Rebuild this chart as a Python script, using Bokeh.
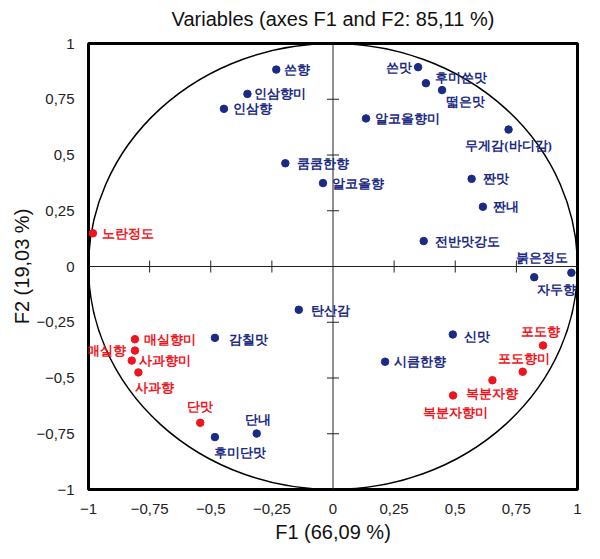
from bokeh.plotting import figure
from bokeh.models import (ColumnDataSource, LabelSet, Span, CustomJSTickFormatter, FixedTicker,
                          Range1d, LinearAxis)
from bokeh.embed import file_html
from bokeh.resources import INLINE

# ---------------- data ----------------
title_text = "Variables (axes F1 and F2: 85,11 %)"
x_label = "F1 (66,09 %)"
y_label = "F2 (19,03 %)"
tick_values = [-1, -0.75, -0.5, -0.25, 0, 0.25, 0.5, 0.75, 1]

blue_names = ["쓴향", "인삼향미", "인삼향", "쿰쿰한향", "알코올향", "쓴맛", "후미쓴맛", "떫은맛",
              "알코올향미", "무게감(바디감)", "짠맛", "짠내", "전반맛강도", "붉은정도", "자두향",
              "신맛", "시큼한향", "탄산감", "감칠맛", "단내", "후미단맛"]
blue_f1 = [-0.232, -0.350, -0.446, -0.195, -0.041, 0.348, 0.380, 0.446,
           0.135, 0.718, 0.567, 0.613, 0.371, 0.823, 0.975,
           0.490, 0.213, -0.140, -0.483, -0.312, -0.483]
blue_f2 = [0.883, 0.774, 0.707, 0.463, 0.374, 0.894, 0.822, 0.791,
           0.664, 0.614, 0.393, 0.268, 0.114, -0.048, -0.028,
           -0.305, -0.427, -0.194, -0.320, -0.749, -0.765]

red_names = ["노란정도", "매실향미", "매실향", "사과향미", "사과향", "단맛",
             "포도향", "포도향미", "복분자향", "복분자향미"]
red_f1 = [-0.982, -0.810, -0.810, -0.823, -0.796, -0.543, 0.859, 0.776, 0.652, 0.491]
red_f2 = [0.149, -0.326, -0.377, -0.422, -0.475, -0.701, -0.354, -0.472, -0.510, -0.578]

# label placement (align, dx px, dy px downward) -- layout only
label_place = {
    "쓴향": ("left", 8, 0), "인삼향미": ("left", 7, 0), "인삼향": ("left", 9, 0),
    "쿰쿰한향": ("left", 12, 0), "알코올향": ("left", 9, 0), "쓴맛": ("right", -6, 0),
    "후미쓴맛": ("left", 9, -6), "떫은맛": ("left", 4, 11), "알코올향미": ("left", 9, 0),
    "무게감(바디감)": ("center", 0, 16), "짠맛": ("left", 11, 0), "짠내": ("left", 10, 0),
    "전반맛강도": ("left", 11, 0), "붉은정도": ("center", 8, -20), "자두향": ("center", -15, 17),
    "신맛": ("left", 11, 2), "시큼한향": ("left", 9, 0), "탄산감": ("left", 12, 1),
    "감칠맛": ("left", 14, 2), "단내": ("center", 1, -14), "후미단맛": ("left", -1, 15),
    "노란정도": ("left", 9, 0), "매실향미": ("left", 9, 0), "매실향": ("right", -9, 0),
    "사과향미": ("left", 7, 0), "사과향": ("left", -3, 15), "단맛": ("center", 0, -16),
    "포도향": ("center", -3, -14), "포도향미": ("center", 1, -13),
    "복분자향": ("center", 0, 13), "복분자향미": ("center", 2, 17),
}

BLUE = "#1b2a85"
RED = "#f0141e"
LABEL_FONT = "Noto Sans CJK KR"
LABEL_SIZE = "13px"
TICK_FONT = "Liberation Sans"

p = figure(width=592, height=551, output_backend="svg", toolbar_location=None,
           x_range=Range1d(-1, 1), y_range=Range1d(-1, 1),
           min_border_left=88, min_border_right=15, min_border_top=43, min_border_bottom=62)
p.background_fill_color = "white"
p.border_fill_color = "white"
p.outline_line_color = "black"
p.outline_line_width = 3
p.xgrid.visible = False
p.ygrid.visible = False

bottom_axis = p.below[0]
left_axis = p.left[0]

fmt = CustomJSTickFormatter(code="""
var v = Math.round(tick*100)/100;
var s = Math.abs(v).toString().replace('.', ',');
if (v < 0) { s = '\u2212' + s; }
return s;
""")

for ax in (bottom_axis, left_axis):
    ax.ticker = FixedTicker(ticks=tick_values)
    ax.formatter = fmt
    ax.axis_line_color = None
    ax.major_tick_line_color = None
    ax.minor_tick_line_color = None
    ax.major_label_text_font = TICK_FONT
    ax.major_label_text_font_size = "15px"
    ax.major_label_text_color = "#222222"
    ax.major_label_standoff = 8
    ax.axis_label_text_font = "Liberation Sans"
    ax.axis_label_text_font_size = "20px"
    ax.axis_label_text_font_style = "normal"
    ax.axis_label_text_color = "#111111"

bottom_axis.axis_label = x_label
bottom_axis.axis_label_standoff = 4
left_axis.axis_label = y_label
left_axis.axis_label_standoff = 1

# title drawn as the label of a tick-less axis above the frame
title_axis = LinearAxis(axis_label=title_text, ticker=FixedTicker(ticks=[]),
                        axis_line_color=None, major_tick_line_color=None,
                        minor_tick_line_color=None, major_label_text_font_size="0px",
                        major_label_standoff=0, axis_label_standoff=14,
                        axis_label_text_font="Liberation Sans", axis_label_text_font_size="20px",
                        axis_label_text_font_style="normal", axis_label_text_color="#111111")
p.add_layout(title_axis, "above")

# inner zero axes
p.add_layout(Span(location=0, dimension="width", line_color="#222222", line_width=1))
p.add_layout(Span(location=0, dimension="height", line_color="#222222", line_width=1))
inner_ticks = [t for t in tick_values if t not in (-1, 0, 1)]
p.scatter(x=inner_ticks, y=[0] * len(inner_ticks), marker="dash", size=12, angle=1.5708,
          line_color="#222222", line_width=1)
p.scatter(x=[0] * len(inner_ticks), y=inner_ticks, marker="dash", size=12,
          line_color="#222222", line_width=1)

# correlation circle
p.ellipse(x=0, y=0, width=2, height=2, fill_color=None, line_color="black", line_width=1.5)

# points
p.scatter(blue_f1, blue_f2, size=7.5, fill_color=BLUE, line_color=BLUE)
p.scatter(red_f1, red_f2, size=7.5, fill_color=RED, line_color=RED)

# labels, grouped by colour and alignment
def add_labels(names, xs, ys, color):
    for align in ("left", "right", "center"):
        d = dict(x=[], y=[], t=[], xo=[], yo=[])
        for n, xv, yv in zip(names, xs, ys):
            a, dx, dy = label_place[n]
            if a != align:
                continue
            d["x"].append(xv); d["y"].append(yv); d["t"].append(n)
            d["xo"].append(dx); d["yo"].append(-dy)
        if not d["x"]:
            continue
        src = ColumnDataSource(d)
        p.add_layout(LabelSet(x="x", y="y", text="t", x_offset="xo", y_offset="yo", source=src,
                              text_align=align, text_baseline="middle", text_color=color,
                              text_font=LABEL_FONT, text_font_size=LABEL_SIZE,
                              text_font_style="bold"))

add_labels(blue_names, blue_f1, blue_f2, BLUE)
add_labels(red_names, red_f1, red_f2, RED)

open("out.html", "w").write(file_html(p, INLINE))
